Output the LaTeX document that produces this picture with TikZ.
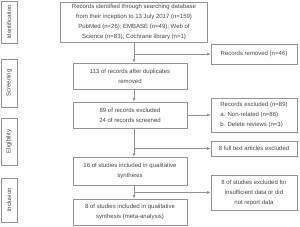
\documentclass[tikz,border=0pt]{standalone}
\usepackage{fontspec}
\setmainfont{Liberation Sans}
\usetikzlibrary{arrows.meta,positioning,calc}
\definecolor{BoxGray}{HTML}{939393}
\definecolor{InkGray}{HTML}{454545}

\begin{document}
\begin{tikzpicture}[x=1pt,y=-1pt,font=\fontsize{6}{10}\selectfont,>={Latex[length=3.5pt,width=3pt]},
  box/.style={draw=BoxGray,line width=0.6pt,text=InkGray,align=center,inner sep=2pt},
  stage/.style={box,rotate=90,minimum height=16pt},
  link/.style={->,draw=BoxGray,line width=0.6pt}]
  \useasboundingbox (0,0) rectangle (300,226);
  % phases
  \node[stage,minimum width=42pt] (ident) at (9,22) {Identification};
  \node[stage,minimum width=48pt] (screen) at (9,83) {Screening};
  \node[stage,minimum width=47pt] (elig) at (9,141.5) {Eligibility};
  \node[stage,minimum width=44pt] (incl) at (9,200) {Inclusion};
  % main column
  \node[box,minimum width=147pt,minimum height=40pt] (idbox) at (134,22)
    {Records identified through searching database\\from their inception to 13 July 2017 (n=159)\\PubMed (n=26); EMBASE (n=49); Web of\\Science (n=83); Cochrane library (n=1)};
  \node[box,minimum width=114pt,minimum height=26pt] (dupbox) at (130,76) {113 of records after duplicates\\removed};
  \node[box,minimum width=114pt,minimum height=26pt] (scrbox) at (130,115) {89 of records excluded\\24 of records screened};
  \node[box,minimum width=114pt,minimum height=28pt] (qualbox) at (130,171) {16 of studies included in qualitative\\synthesis};
  \node[box,minimum width=114pt,minimum height=26pt] (metabox) at (130,212) {8 of studies included in qualitative\\synthesis (meta-analysis)};
  % side boxes
  \node[box,minimum width=86pt,minimum height=20pt] (removed) at (254,54) {Records removed (n=46)};
  \node[box,align=left,minimum width=86pt,minimum height=34pt] (exclbox) at (254,115) {Records excluded (n=89)\\a. Non-related (n=86)\\b. Delete reviews (n=3)};
  \node[box,minimum width=86pt,minimum height=15pt] (ftbox) at (254,148.5) {8 full text articles excluded};
  \node[box,minimum width=86pt,minimum height=35pt] (insuff) at (254,192.5) {8 of studies excluded for\\insufficient data or did\\not report data};
  % connectors
  \draw[link] (idbox.south) -- (idbox.south |- dupbox.north);
  \draw[link] (idbox.south |- removed.west) -- (removed.west);
  \draw[link] (idbox.south |- dupbox.south) -- (idbox.south |- scrbox.north);
  \draw[link] (scrbox.east) -- (exclbox.west);
  \draw[link] (idbox.south |- scrbox.south) -- (idbox.south |- qualbox.north);
  \draw[link] (idbox.south |- ftbox.west) -- (ftbox.west);
  \draw[link] (idbox.south |- qualbox.south) -- (idbox.south |- metabox.north);
  \draw[link] (idbox.south |- insuff.west) -- (insuff.west);
\end{tikzpicture}
\end{document}
